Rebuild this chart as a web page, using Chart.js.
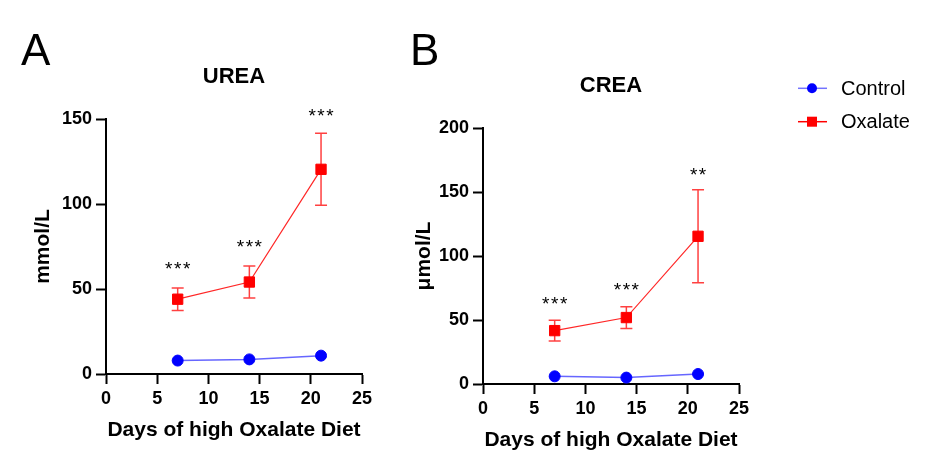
<!DOCTYPE html>
<html><head><meta charset="utf-8">
<script src="https://cdn.jsdelivr.net/npm/chart.js@4/dist/chart.umd.min.js"></script>
<style>
html,body{margin:0;padding:0;background:#fff;}
#wrap{position:relative;width:941px;height:465px;overflow:hidden;background:#fff;}
#cA{position:absolute;left:0;top:0;}
#cB{position:absolute;left:380px;top:0;}
</style></head><body>
<div id="wrap"><canvas id="cA" width="380" height="465"></canvas><canvas id="cB" width="561" height="465"></canvas></div>
<script>
// ---- data ----
const days = [7, 14, 21];
const seriesNames = ['Control', 'Oxalate'];
const xAxisTitle = 'Days of high Oxalate Diet';

const ureaControl = [7.9, 8.6, 10.8];
const ureaOxalate = [44.0, 54.1, 120.4];
const ureaOxalateErr = [6.6, 9.4, 21.2];
const ureaSig = ['***', '***', '***'];
const ureaSigY = [64.5, 77.5, 155];

const creaControl = [6.0, 5.0, 7.8];
const creaOxalate = [41.7, 51.9, 115.4];
const creaOxalateErr = [8.2, 8.5, 36.3];
const creaSig = ['***', '***', '**'];
const creaSigY = [66.4, 77.7, 167.5];

const FONT = '"Liberation Sans", Arial, sans-serif';
const BLUE = '#0000ff', RED = '#ff0000';

function makeChart(id, c) {
  const overlay = {
    id: 'overlay_' + id,
    beforeDatasetsDraw(chart) {
      const ctx = chart.ctx, xs = chart.scales.x, ys = chart.scales.y;
      ctx.save();
      ctx.strokeStyle = 'rgba(255,0,0,0.75)';
      ctx.lineWidth = 1.5;
      c.oxalate.forEach((m, i) => {
        const x = xs.getPixelForValue(days[i]);
        const yt = ys.getPixelForValue(m + c.err[i]);
        const yb = ys.getPixelForValue(m - c.err[i]);
        ctx.beginPath();
        ctx.moveTo(x, yt); ctx.lineTo(x, yb);
        ctx.moveTo(x - 6, yt); ctx.lineTo(x + 6, yt);
        ctx.moveTo(x - 6, yb); ctx.lineTo(x + 6, yb);
        ctx.stroke();
      });
      ctx.restore();
    },
    afterDraw(chart) {
      const ctx = chart.ctx, xs = chart.scales.x, ys = chart.scales.y, a = chart.chartArea;
      ctx.save();
      // significance marks
      ctx.fillStyle = '#000';
      ctx.font = '19px ' + FONT;
      ctx.textAlign = 'center';
      ctx.textBaseline = 'alphabetic';
      try { ctx.letterSpacing = '1.5px'; } catch (e) {}
      c.sig.forEach((s, i) => {
        ctx.fillText(s, xs.getPixelForValue(days[i]) + 0.75, ys.getPixelForValue(c.sigY[i]) + 11);
      });
      try { ctx.letterSpacing = '0px'; } catch (e) {}
      // chart title
      ctx.font = 'bold 22px ' + FONT;
      ctx.textBaseline = 'middle';
      ctx.fillText(c.title, (a.left + a.right) / 2, c.titleY);
      // panel letter
      ctx.font = '44px ' + FONT;
      ctx.textAlign = 'left';
      ctx.textBaseline = 'alphabetic';
      ctx.fillText(c.letter, c.letterX, 65);
      // legend
      if (c.legendX !== undefined) {
        const L = c.legendX;
        const rows = [[88.3, 'rgba(0,0,255,0.55)', BLUE, 'circle'], [121.7, RED, RED, 'rect']];
        rows.forEach((r, k) => {
          const y = r[0];
          ctx.strokeStyle = r[1];
          ctx.lineWidth = 1.5;
          ctx.beginPath(); ctx.moveTo(L, y); ctx.lineTo(L + 29, y); ctx.stroke();
          ctx.fillStyle = r[2];
          if (r[3] === 'circle') {
            ctx.beginPath(); ctx.arc(L + 14, y, 5, 0, Math.PI * 2); ctx.fill();
          } else {
            ctx.fillRect(L + 14 - 5, y - 5, 10, 10);
          }
          ctx.fillStyle = '#000';
          ctx.font = '20px ' + FONT;
          ctx.textBaseline = 'middle';
          ctx.fillText(seriesNames[k], L + 43, y + 1);
        });
      }
      ctx.restore();
    }
  };

  const tickFont = { family: FONT, size: 18, weight: 'bold' };
  const titleFont = { family: FONT, size: 21, weight: 'bold' };
  return new Chart(document.getElementById(id), {
    type: 'line',
    data: {
      datasets: [
        {
          label: seriesNames[0],
          data: days.map((d, i) => ({ x: d, y: c.control[i] })),
          borderColor: 'rgba(0,0,255,0.6)', borderWidth: 1.5,
          pointStyle: 'circle', pointRadius: 5.5, pointBorderWidth: 1,
          pointBackgroundColor: BLUE, pointBorderColor: BLUE
        },
        {
          label: seriesNames[1],
          data: days.map((d, i) => ({ x: d, y: c.oxalate[i] })),
          borderColor: 'rgba(255,0,0,0.85)', borderWidth: 1.2,
          pointStyle: 'rect', pointRadius: 7.3, pointBorderWidth: 1,
          pointBackgroundColor: RED, pointBorderColor: RED
        }
      ]
    },
    options: {
      responsive: false, animation: false, devicePixelRatio: 1,
      layout: { padding: { left: 0, top: c.top, right: c.padRight, bottom: 0 } },
      plugins: { legend: { display: false }, tooltip: { enabled: false }, title: { display: false } },
      elements: { line: { tension: 0 } },
      scales: {
        x: {
          type: 'linear', min: 0, max: 25,
          ticks: { stepSize: 5, color: '#000', font: tickFont, padding: 4, maxRotation: 0 },
          grid: { drawOnChartArea: false, drawTicks: true, tickLength: 10, tickWidth: 2, tickColor: '#000' },
          border: { display: true, color: '#000', width: 2 },
          title: { display: true, text: xAxisTitle, color: '#000', font: titleFont, padding: { top: 0, bottom: c.xTitlePad } },
          afterFit(s) { s.height = c.xHeight; }
        },
        y: {
          type: 'linear', min: 0, max: c.yMax,
          ticks: { stepSize: 50, color: '#000', font: tickFont, padding: 4 },
          grid: { drawOnChartArea: false, drawTicks: true, tickLength: 10, tickWidth: 2, tickColor: '#000' },
          border: { display: true, color: '#000', width: 2 },
          title: { display: true, text: c.yTitle, color: '#000', font: titleFont, padding: { top: c.yTitlePad, bottom: 0 } },
          afterFit(s) { s.width = c.yWidth; }
        }
      }
    },
    plugins: [overlay]
  });
}

makeChart('cA', {
  title: 'UREA', letter: 'A', letterX: 21, titleY: 77, yTitle: 'mmol/L', yMax: 150,
  control: ureaControl, oxalate: ureaOxalate, err: ureaOxalateErr, sig: ureaSig, sigY: ureaSigY,
  top: 119, padRight: 18, yWidth: 106, xHeight: 91, xTitlePad: 22.5, yTitlePad: 30.5
});
makeChart('cB', {
  title: 'CREA', letter: 'B', letterX: 30, titleY: 86, yTitle: 'μmol/L', yMax: 200,
  control: creaControl, oxalate: creaOxalate, err: creaOxalateErr, sig: creaSig, sigY: creaSigY,
  top: 128, padRight: 202, yWidth: 103, xHeight: 81, xTitlePad: 12.5, yTitlePad: 31.5,
  legendX: 798 - 380
});
</script>
</body></html>
